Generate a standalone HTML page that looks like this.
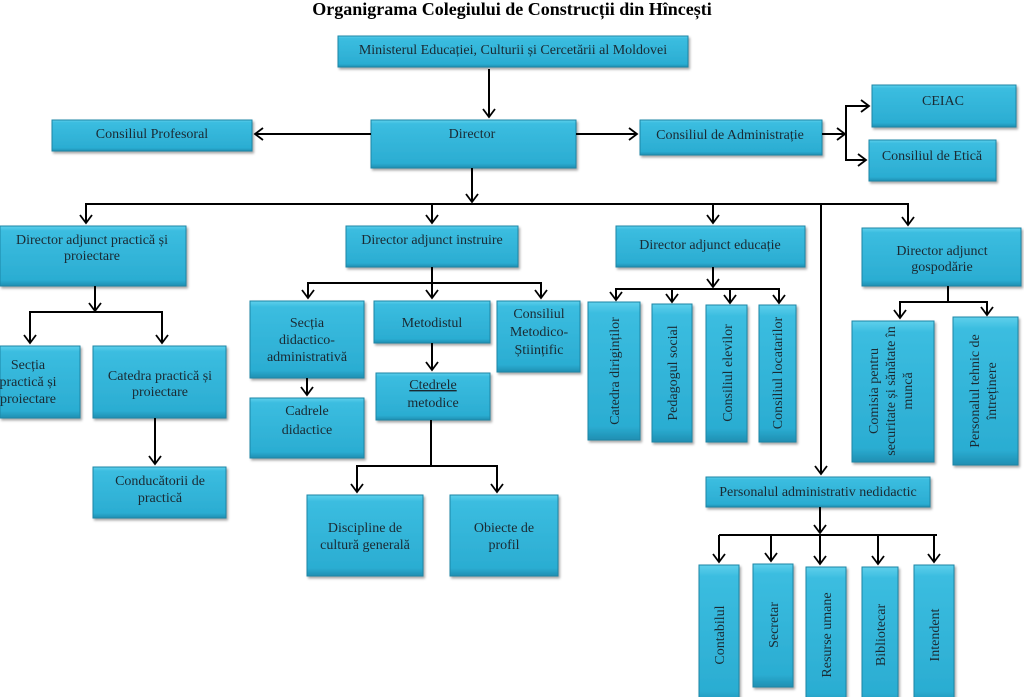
<!DOCTYPE html>
<html><head><meta charset="utf-8">
<style>
html,body{margin:0;padding:0;background:#fff;}
svg{display:block;}
text{font-family:"Liberation Serif",serif;font-size:14px;fill:#1a2a33;}
.t{font-size:18px;font-weight:bold;fill:#000;}
</style></head><body>
<svg width="1024" height="697" viewBox="0 0 1024 697" xmlns="http://www.w3.org/2000/svg">
<defs>
<linearGradient id="g" x1="0" y1="0" x2="0" y2="1">
<stop offset="0" stop-color="#5fd0ec"/><stop offset="0.08" stop-color="#3bbde0"/>
<stop offset="0.9" stop-color="#2badd2"/><stop offset="1" stop-color="#1f8fb2"/>
</linearGradient>
<marker id="a" markerWidth="14" markerHeight="14" refX="10" refY="7" orient="auto" markerUnits="userSpaceOnUse">
<polyline points="2,1 10,7 2,13" fill="none" stroke="#000" stroke-width="1.8"/>
</marker>
<filter id="s" x="-10%" y="-10%" width="125%" height="130%"><feDropShadow dx="1.5" dy="2" stdDeviation="1.2" flood-color="#000" flood-opacity="0.35"/></filter>
</defs>
<text class="t" x="512" y="15" text-anchor="middle">Organigrama Colegiului de Construcții din Hîncești</text>

<g fill="url(#g)" stroke="#1d86a6" stroke-width="1" filter="url(#s)">
<rect x="338" y="36" width="350" height="31"/>
<rect x="371" y="120" width="205" height="48"/>
<rect x="52" y="120" width="200" height="31"/>
<rect x="640" y="120" width="182" height="35"/>
<rect x="872" y="85" width="144" height="42"/>
<rect x="869" y="140" width="127" height="41"/>
<rect x="0" y="226" width="186" height="60"/>
<rect x="346" y="226" width="172" height="41"/>
<rect x="616" y="226" width="189" height="41"/>
<rect x="862" y="228" width="159" height="58"/>
<rect x="0" y="346" width="80" height="72"/>
<rect x="93" y="346" width="133" height="72"/>
<rect x="93" y="467" width="133" height="51"/>
<rect x="250" y="301" width="114" height="77"/>
<rect x="374" y="301" width="116" height="42"/>
<rect x="497" y="301" width="83" height="71"/>
<rect x="250" y="398" width="114" height="60"/>
<rect x="376" y="373" width="114" height="47"/>
<rect x="307" y="495" width="116" height="81"/>
<rect x="450" y="495" width="108" height="81"/>
<rect x="588" y="302" width="52" height="138"/>
<rect x="652" y="304" width="40" height="138"/>
<rect x="706" y="305" width="41" height="137"/>
<rect x="759" y="305" width="37" height="137"/>
<rect x="852" y="321" width="82" height="141"/>
<rect x="953" y="317" width="65" height="148"/>
<rect x="706" y="477" width="224" height="30"/>
<rect x="699" y="565" width="40" height="140"/>
<rect x="753" y="564" width="40" height="123"/>
<rect x="806" y="567" width="40" height="140"/>
<rect x="862" y="567" width="36" height="140"/>
<rect x="914" y="565" width="40" height="140"/>
</g>

<g stroke="#000" stroke-width="2" fill="none">
<line x1="489" y1="69" x2="489" y2="117" marker-end="url(#a)"/>
<line x1="371" y1="134" x2="255" y2="134" marker-end="url(#a)"/>
<line x1="576" y1="134" x2="637" y2="134" marker-end="url(#a)"/>
<line x1="822" y1="134" x2="845" y2="134" marker-end="url(#a)"/>
<polyline points="869,106 846,106 846,160 866,160"/>
<line x1="846" y1="106" x2="869" y2="106" marker-end="url(#a)"/>
<line x1="846" y1="160" x2="866" y2="160" marker-end="url(#a)"/>
<line x1="472" y1="168" x2="472" y2="202" marker-end="url(#a)"/>
<line x1="85" y1="204" x2="909" y2="204"/>
<line x1="86" y1="204" x2="86" y2="223" marker-end="url(#a)"/>
<line x1="432" y1="204" x2="432" y2="223" marker-end="url(#a)"/>
<line x1="713" y1="204" x2="713" y2="223" marker-end="url(#a)"/>
<line x1="908" y1="204" x2="908" y2="225" marker-end="url(#a)"/>
<line x1="821" y1="204" x2="821" y2="474" marker-end="url(#a)"/>
<line x1="95" y1="286" x2="95" y2="311" marker-end="url(#a)"/>
<polyline points="30,343 30,312 162,312 162,343"/>
<line x1="30" y1="320" x2="30" y2="343" marker-end="url(#a)"/>
<line x1="162" y1="320" x2="162" y2="343" marker-end="url(#a)"/>
<line x1="155" y1="418" x2="155" y2="464" marker-end="url(#a)"/>
<line x1="432" y1="267" x2="432" y2="298" marker-end="url(#a)"/>
<polyline points="308,298 308,283 541,283 541,298"/>
<line x1="308" y1="285" x2="308" y2="298" marker-end="url(#a)"/>
<line x1="541" y1="285" x2="541" y2="298" marker-end="url(#a)"/>
<line x1="307" y1="378" x2="307" y2="395" marker-end="url(#a)"/>
<line x1="432" y1="343" x2="432" y2="370" marker-end="url(#a)"/>
<line x1="431" y1="420" x2="431" y2="466"/>
<polyline points="357,492 357,466 497,466 497,492"/>
<line x1="357" y1="470" x2="357" y2="492" marker-end="url(#a)"/>
<line x1="497" y1="470" x2="497" y2="492" marker-end="url(#a)"/>
<line x1="713" y1="267" x2="713" y2="287" marker-end="url(#a)"/>
<polyline points="616,300 616,289 779,289 779,302"/>
<line x1="616" y1="290" x2="616" y2="300" marker-end="url(#a)"/>
<line x1="672" y1="289" x2="672" y2="302" marker-end="url(#a)"/>
<line x1="730" y1="289" x2="730" y2="303" marker-end="url(#a)"/>
<line x1="779" y1="290" x2="779" y2="303" marker-end="url(#a)"/>
<line x1="948" y1="286" x2="948" y2="302"/>
<polyline points="900,318 900,302 987,302 987,315"/>
<line x1="900" y1="305" x2="900" y2="318" marker-end="url(#a)"/>
<line x1="987" y1="305" x2="987" y2="315" marker-end="url(#a)"/>
<line x1="820" y1="507" x2="820" y2="533" marker-end="url(#a)"/>
<line x1="719" y1="535" x2="937" y2="535"/>
<line x1="719" y1="535" x2="719" y2="562" marker-end="url(#a)"/>
<line x1="771" y1="535" x2="771" y2="561" marker-end="url(#a)"/>
<line x1="820" y1="535" x2="820" y2="564" marker-end="url(#a)"/>
<line x1="878" y1="535" x2="878" y2="564" marker-end="url(#a)"/>
<line x1="934" y1="535" x2="934" y2="562" marker-end="url(#a)"/>
</g>

<g text-anchor="middle">
<text x="513" y="54">Ministerul Educației, Culturii și Cercetării al Moldovei</text>
<text x="472" y="138">Director</text>
<text x="152" y="138">Consiliul Profesoral</text>
<text x="730" y="139">Consiliul de Administrație</text>
<text x="943" y="105">CEIAC</text>
<text x="932" y="160">Consiliul de Etică</text>
<text x="92" y="244">Director adjunct practică și</text>
<text x="92" y="260">proiectare</text>
<text x="432" y="244">Director adjunct instruire</text>
<text x="710" y="249">Director adjunct educație</text>
<text x="942" y="255">Director adjunct</text>
<text x="942" y="271">gospodărie</text>
<text x="28" y="369">Secția</text>
<text x="28" y="386">practică și</text>
<text x="28" y="403">proiectare</text>
<text x="160" y="380">Catedra practică și</text>
<text x="160" y="396">proiectare</text>
<text x="160" y="485">Conducătorii de</text>
<text x="160" y="502">practică</text>
<text x="307" y="327">Secția</text>
<text x="307" y="344">didactico-</text>
<text x="307" y="361">administrativă</text>
<text x="432" y="327">Metodistul</text>
<text x="539" y="318">Consiliul</text>
<text x="539" y="336">Metodico-</text>
<text x="539" y="354">Științific</text>
<text x="307" y="415">Cadrele</text>
<text x="307" y="434">didactice</text>
<text x="433" y="389" text-decoration="underline">Ctedrele</text>
<text x="433" y="407">metodice</text>
<text x="365" y="532">Discipline de</text>
<text x="365" y="549">cultură generală</text>
<text x="504" y="532">Obiecte de</text>
<text x="504" y="549">profil</text>
<text x="818" y="496">Personalul administrativ nedidactic</text>

<text transform="translate(619,371) rotate(-90)">Catedra diriginților</text>
<text transform="translate(677,373) rotate(-90)">Pedagogul social</text>
<text transform="translate(732,373) rotate(-90)">Consiliul elevilor</text>
<text transform="translate(782,373) rotate(-90)">Consiliul locatarilor</text>
<text transform="translate(878,391) rotate(-90)">Comisia pentru</text>
<text transform="translate(895,391) rotate(-90)">securitate și sănătate în</text>
<text transform="translate(912,391) rotate(-90)">muncă</text>
<text transform="translate(979,391) rotate(-90)">Personalul tehnic de</text>
<text transform="translate(996,391) rotate(-90)">întreținere</text>
<text transform="translate(724,635) rotate(-90)">Contabilul</text>
<text transform="translate(778,625) rotate(-90)">Secretar</text>
<text transform="translate(831,635) rotate(-90)">Resurse umane</text>
<text transform="translate(885,635) rotate(-90)">Bibliotecar</text>
<text transform="translate(939,635) rotate(-90)">Intendent</text>
</g>
</svg>
</body></html>
